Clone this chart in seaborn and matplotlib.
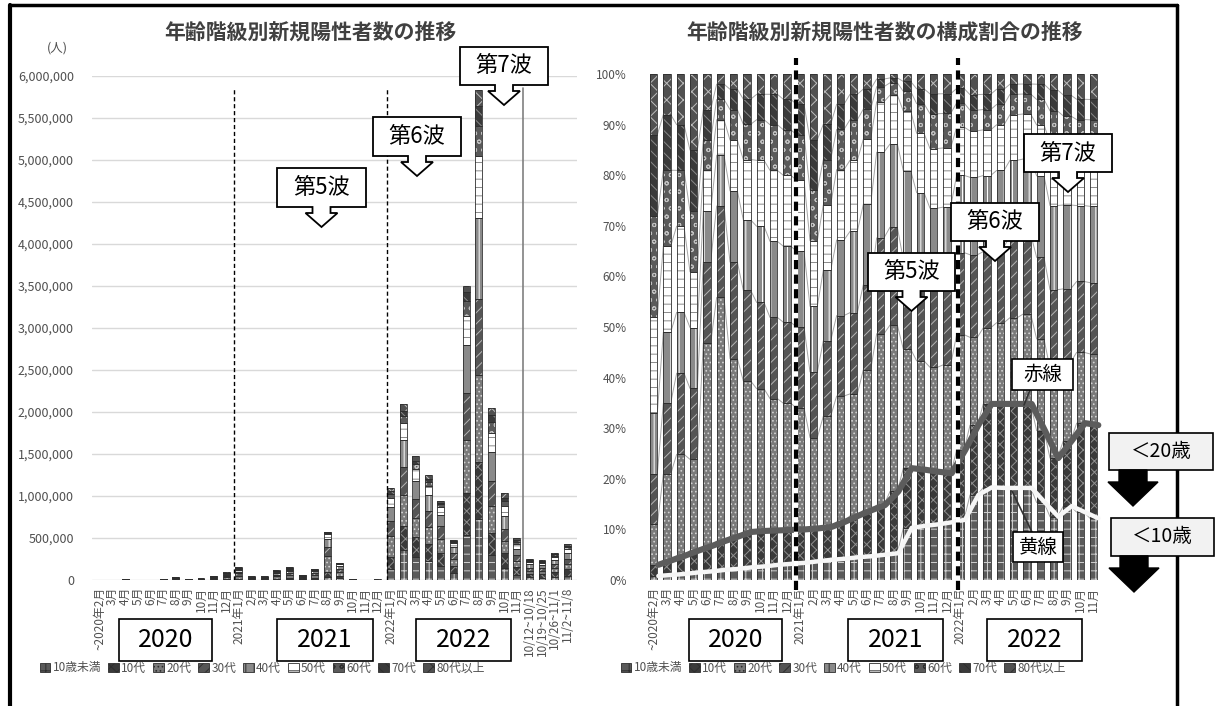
import numpy as np
import matplotlib
matplotlib.use("Agg")
import matplotlib.pyplot as plt
import seaborn as sns
from matplotlib.patches import Patch, Polygon, Rectangle
from matplotlib.lines import Line2D

# ---------------- data ----------------
month_labels = ["~2020年2月", "3月", "4月", "5月", "6月", "7月", "8月", "9月", "10月", "11月", "12月",
                "2021年1月", "2月", "3月", "4月", "5月", "6月", "7月", "8月", "9月", "10月", "11月", "12月",
                "2022年1月", "2月", "3月", "4月", "5月", "6月", "7月", "8月", "9月", "10月", "11月"]
week_labels = ["10/12~10/18", "10/19~10/25", "10/26~11/1", "11/2~11/8"]

# new positive cases (persons)
monthly_total = [200, 2000, 12000, 2500, 1700, 17000, 32000, 15000, 18000, 47000, 90000,
                 155000, 45000, 45000, 120000, 150000, 60000, 128000, 570000, 200000, 15000, 4500, 6000,
                 1090000, 2100000, 1480000, 1245000, 940000, 475000, 3500000, 5830000, 2050000, 1030000, 500000]
weekly_total = [250000, 240000, 320000, 430000]

age_groups = ["10歳未満", "10代", "20代", "30代", "40代", "50代", "60代", "70代", "80代以上"]

# share (%) of under-10 and teens
share_u10 = [0.8, 1.0, 1.2, 1.5, 1.7, 2.0, 2.2, 2.5, 2.7, 3.0, 3.2,
             3.4, 3.7, 4.0, 4.2, 4.5, 4.7, 5.0, 5.3, 10.3, 10.7, 11.0, 11.4,
             11.9, 16.8, 18.3, 18.2, 18.2, 18.2, 15.3, 12.5, 14.6, 13.4, 12.2]
share_10s = [2.2, 2.9, 3.6, 4.3, 5.0, 5.7, 6.4, 7.0, 7.0, 6.8, 6.7,
             6.6, 6.5, 6.5, 7.3, 8.2, 9.1, 9.8, 12.2, 11.8, 11.1, 10.4, 9.7,
             13.7, 13.8, 16.5, 16.6, 16.6, 16.6, 14.2, 11.6, 12.9, 17.6, 18.4]
# relative mix of the remaining adult groups
mix_20s = [8, 17, 20, 18, 40, 48, 35, 30, 28, 26, 25, 24, 18, 22, 25, 24, 28, 34, 34, 24, 22, 21, 22, 24, 17, 15, 16, 17, 18, 18, 17, 15, 14, 14]
mix_30s = [10, 14, 16, 14, 16, 18, 19, 18, 17, 16, 16, 16, 13, 15, 16, 16, 17, 19, 20, 18, 17, 16, 16, 17, 16, 15, 15, 16, 16, 16, 15, 14, 14, 14]
mix_40s = [12, 14, 12, 12, 10, 10, 14, 14, 15, 15, 15, 15, 13, 14, 15, 16, 16, 17, 17, 18, 17, 16, 16, 16, 15, 15, 15, 15, 15, 16, 16, 16, 15, 15]
mix_50s = [19, 17, 17, 11, 8, 7, 10, 12, 13, 14, 14, 14, 13, 13, 14, 14, 13, 10, 10, 12, 12, 12, 12, 10, 9, 9, 9, 9, 9, 10, 12, 11, 11, 11]
mix_60s = [20, 15, 11, 12, 6, 4, 6, 7, 8, 9, 9, 9, 10, 9, 8, 8, 6, 3, 2.5, 4, 6, 7, 7, 5, 4, 4, 4, 4, 4, 5, 6, 6, 6, 6]
mix_70s = [16, 11, 9, 12, 6, 3, 4, 5, 5, 6, 6, 6, 10, 7, 5, 5, 4, 1.5, 1, 2, 3, 4, 4, 3, 3, 3, 3, 2, 2, 3, 4, 4, 4, 4]
mix_80s = [12, 8, 10, 15, 7, 2, 3, 5, 4, 4, 5, 6, 13, 10, 6, 4, 3, 1, 0.8, 1.5, 3, 4, 4, 3, 4, 4, 3, 2, 2, 2, 3, 4, 5, 5]

# ---------------- derived tables ----------------
u10 = np.array(share_u10, float)
teen = np.array(share_10s, float)
under20 = u10 + teen
mix = np.array([mix_20s, mix_30s, mix_40s, mix_50s, mix_60s, mix_70s, mix_80s], float)
adult = mix / mix.sum(axis=0) * (100 - under20)
shares = np.vstack([u10, teen, adult])          # 9 x months, columns sum to 100

# fill / hatch-colour / hatch per age group
styles = [("#5a5a5a", "#cfcfcf", "++"),
          ("#3a3a3a", "#8f8f8f", "xxx"),
          ("#7a7a7a", "#d2d2d2", "...."),
          ("#555555", "#b5b5b5", "///"),
          ("#8a8a8a", "#ffffff", "||"),
          ("#ffffff", "#8a8a8a", "--"),
          ("#5a5a5a", "#c0c0c0", "oo"),
          ("#3a3a3a", "#888888", "\\\\\\"),
          ("#505050", "#bdbdbd", "xx")]

# ---------------- figure ----------------
sns.set_style("white")
plt.rcParams["font.family"] = ["Noto Sans CJK JP", "DejaVu Sans"]
plt.rcParams["hatch.linewidth"] = 0.7

W, H = 1218, 706
fig = plt.figure(figsize=(W / 100, H / 100), dpi=100)
fig.patch.set_facecolor("white")


def fx(x):
    return x / W


def fy(y):
    return 1 - y / H


def draw_stack(ax, xs, shr, totals, width):
    bottom = np.zeros(len(xs))
    for g, (face, hcol, hatch) in enumerate(styles):
        h = shr[g] * totals / 100.0
        ax.bar(xs, h, bottom=bottom, width=width, color=face, edgecolor=hcol,
               hatch=hatch, linewidth=0, zorder=2)
        ax.bar(xs, h, bottom=bottom, width=width, fill=False, edgecolor="#2e2e2e",
               linewidth=0.6, zorder=3)
        bottom = bottom + h
    return bottom


TICK_GRAY = "#505050"
axL = fig.add_axes([fx(92), fy(580), 485 / W, 504 / H])
axR = fig.add_axes([fx(649), fy(580), 458 / W, 506 / H])

# ----- left: counts -----
nm, nw = len(month_labels), len(week_labels)
xL = np.arange(nm + nw)
totL = np.array(monthly_total + weekly_total, float)
sharesL = np.hstack([shares, np.repeat(shares[:, -1:], nw, axis=1)])  # weekly bars use the November mix
draw_stack(axL, xL, sharesL, totL, 0.55)

axL.set_xlim(-0.63, 37.77)
axL.set_ylim(0, 6e6)
yt = np.arange(0, 6e6 + 1, 5e5)
axL.set_yticks(yt)
axL.set_yticklabels([f"{int(v):,}" for v in yt])
axL.yaxis.grid(True, color="#d9d9d9", lw=1)
axL.set_axisbelow(True)
axL.set_xticks(xL)
axL.set_xticklabels(month_labels + week_labels, rotation=90)
axL.tick_params(axis="y", length=0, pad=13, labelsize=9, labelcolor=TICK_GRAY)
axL.tick_params(axis="x", length=0, pad=5, labelsize=8.5, labelcolor=TICK_GRAY)
for s in axL.spines.values():
    s.set_visible(False)
for xv in (10.6, 22.7):
    axL.plot([xv, xv], [0, 5.86e6], color="black", lw=1, ls=(0, (3, 2)), zorder=4)
axL.plot([33.5, 33.5], [0, 5.86e6], color="#808080", lw=1.2, zorder=4)

# ----- right: composition -----
xR = np.arange(nm)
BW = 0.55
draw_stack(axR, xR, shares, np.full(nm, 100.0), BW)
cum = np.cumsum(shares, axis=0)
for j in range(8):
    for k in range(nm - 1):
        axR.plot([k + BW / 2, k + 1 - BW / 2], [cum[j, k], cum[j, k + 1]],
                 color="#a6a6a6", lw=0.7, zorder=1)

LINE_SHIFT = 0.35
sns.lineplot(x=xR + LINE_SHIFT, y=under20, ax=axR, color="#5c5c5c", linewidth=4.4,
             zorder=6, legend=False)
sns.lineplot(x=xR + LINE_SHIFT, y=u10, ax=axR, color="#f6f6f6", linewidth=3.2,
             zorder=6, legend=False)
axR.set_xlabel("")
axR.set_ylabel("")
axR.set_xlim(-0.35, 34.0)
axR.set_ylim(0, 100)
ytR = np.arange(0, 101, 10)
axR.set_yticks(ytR)
axR.set_yticklabels([f"{v}%" for v in ytR])
axR.set_xticks(xR)
axR.set_xticklabels(month_labels, rotation=90)
axR.tick_params(axis="y", length=0, pad=16, labelsize=8.5, labelcolor=TICK_GRAY)
axR.tick_params(axis="x", length=0, pad=5, labelsize=8.5, labelcolor=TICK_GRAY)
for s in axR.spines.values():
    s.set_visible(False)
for xv in (10.65, 22.8):
    axR.plot([xv, xv], [-2, 103.2], color="white", lw=3, zorder=7, clip_on=False)
    axR.plot([xv, xv], [-2, 103.2], color="black", lw=3, ls=(0, (2.2, 1.3)), zorder=8, clip_on=False)

# ----- titles -----
fig.text(fx(310), fy(32), "年齢階級別新規陽性者数の推移", ha="center", va="center",
         fontsize=15, fontweight="bold", color="#404040")
fig.text(fx(885), fy(32), "年齢階級別新規陽性者数の構成割合の推移", ha="center", va="center",
         fontsize=15, fontweight="bold", color="#404040")
fig.text(fx(57), fy(48), "(人)", ha="center", va="center", fontsize=9, color=TICK_GRAY)

# ----- legends -----
handles = [Patch(facecolor=f, edgecolor=h, hatch=ht, linewidth=0) for f, h, ht in styles]
for cx in (262, 843):
    leg = fig.legend(handles, age_groups, loc="center", bbox_to_anchor=(fx(cx), fy(668)),
                     ncol=9, frameon=False, fontsize=8.5, handlelength=0.9, handleheight=0.9,
                     handletextpad=0.2, columnspacing=0.6, labelcolor=TICK_GRAY)
    for p in leg.get_patches():
        p.set_edgecolor("#2e2e2e")
        p.set_linewidth(0.6)


# ----- annotations -----
def callout(text, x0, y0, x1, y1, stem=9, head=16, drop=6, tip=20):
    cx = (x0 + x1) / 2
    ys, yt_ = y1 + drop, y1 + tip
    pts = [(x0, y0), (x1, y0), (x1, y1), (cx + stem, y1), (cx + stem, ys), (cx + head, ys),
           (cx, yt_), (cx - head, ys), (cx - stem, ys), (cx - stem, y1), (x0, y1)]
    fig.add_artist(Polygon([(fx(a), fy(b)) for a, b in pts], closed=True, transform=fig.transFigure,
                           facecolor="white", edgecolor="black", lw=1.3, zorder=20))
    fig.text(fx(cx), fy((y0 + y1) / 2), text, ha="center", va="center", fontsize=16,
             color="black", zorder=21)


def box(text, x0, y0, x1, y1, size=18, face="white"):
    fig.add_artist(Rectangle((fx(x0), fy(y1)), (x1 - x0) / W, (y1 - y0) / H,
                             transform=fig.transFigure, facecolor=face, edgecolor="black",
                             lw=1.2, zorder=20))
    fig.text(fx((x0 + x1) / 2), fy((y0 + y1) / 2), text, ha="center", va="center",
             fontsize=size, color="black", zorder=21)


def block_arrow(cx, y_top, y_sh, y_tip, stem=14, head=25):
    pts = [(cx - stem, y_top), (cx + stem, y_top), (cx + stem, y_sh), (cx + head, y_sh),
           (cx, y_tip), (cx - head, y_sh), (cx - stem, y_sh)]
    fig.add_artist(Polygon([(fx(a), fy(b)) for a, b in pts], closed=True, transform=fig.transFigure,
                           facecolor="black", edgecolor="black", lw=1, zorder=20))


callout("第5波", 277, 168, 366, 207)
callout("第6波", 373, 117, 461, 156)
callout("第7波", 460, 47, 548, 85)
callout("第5波", 868, 253, 955, 291)
callout("第6波", 951, 203, 1039, 241)
callout("第7波", 1024, 134, 1112, 172)

for label, x0, x1 in (("2020", 119, 212), ("2021", 277, 373), ("2022", 416, 511),
                      ("2020", 689, 782), ("2021", 848, 943), ("2022", 987, 1082)):
    box(label, x0, 619, x1, 661)

fig.add_artist(Line2D([fx(1030), fx(1024)], [fy(390), fy(405)], transform=fig.transFigure,
                      color="#333333", lw=1.2, zorder=19))
box("赤線", 1012, 359, 1073, 390, size=14)
fig.add_artist(Line2D([fx(1032), fx(1012)], [fy(532), fy(491)], transform=fig.transFigure,
                      color="#333333", lw=1.2, zorder=19))
box("黄線", 1013, 532, 1063, 562, size=14)

# frame
for xs_, ys_, lw in (([10, 10], [5, 706], 3), ([10, 1177], [5, 5], 2.5), ([1177, 1177], [5, 706], 2.5)):
    fig.add_artist(Line2D([fx(v) for v in xs_], [fy(v) for v in ys_], transform=fig.transFigure,
                          color="black", lw=lw, zorder=18))

box("＜20歳", 1109, 433, 1213, 470, size=14, face="#f2f2f2")
block_arrow(1133, 470, 482, 506)
box("＜10歳", 1111, 518, 1214, 556, size=14, face="#f2f2f2")
block_arrow(1134, 556, 568, 592)

fig.savefig("out.png", dpi=100, facecolor="white")
